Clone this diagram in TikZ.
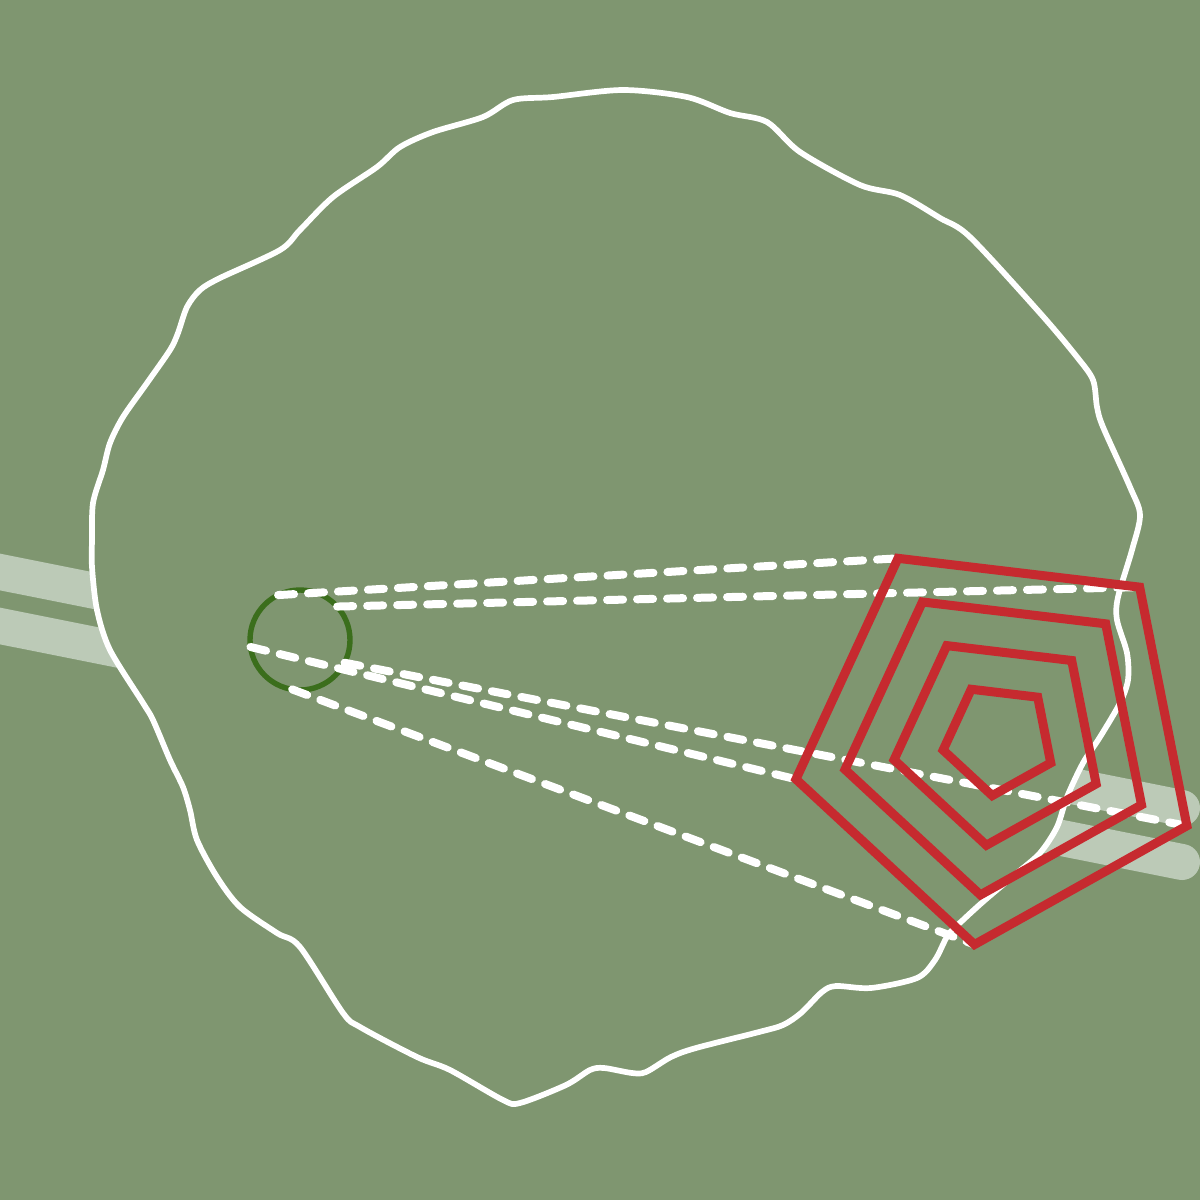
\documentclass[tikz,border=0pt]{standalone}
\definecolor{bg}{HTML}{7F9670}
\definecolor{bandc}{HTML}{BCCAB7}
\definecolor{redc}{HTML}{C62A2F}
\definecolor{ringc}{HTML}{3B6E1C}
\begin{document}
\begin{tikzpicture}[x=1pt,y=-1pt,
  blob/.style={draw=white,line width=5.7pt,fill=bg,line join=round},
  band/.style={draw=bandc,line width=36pt,line cap=round},
  ray/.style={draw=white,line width=8pt,line cap=round,dash pattern=on 16pt off 14pt},
  penta/.style={draw=redc,line width=9pt,miter limit=10},
  ring/.style={circle,draw=ringc,line width=5.4pt,minimum size=100pt,inner sep=0pt,outer sep=0pt}]
\fill[bg] (0,0) rectangle (1200,1200);
\useasboundingbox (0,0) rectangle (1200,1200);
% pale bands
\coordinate (B1s) at (-30,566); \coordinate (B1e) at (1182,808);
\coordinate (B2s) at (-30,620); \coordinate (B2e) at (1182,862);
\draw[band] (B1s) -- (B1e);
\draw[band] (B2s) -- (B2e);
% wavy blob
\draw[blob] plot[smooth cycle,tension=0.5] coordinates {
(300,230) (333,197) (377,167) (400,147) (433,132) (483,117) (513,100) (553,97) (623,90) (687,97) (730,113) (767,122) (800,152) (860,185) (900,195) (940,218) (970,237) (1040,313) (1077,357) (1093,380) (1097,407) (1103,427) (1130,487) (1140,515) (1132,550) (1118,597) (1117,620) (1127,653) (1128,680) (1120,703) (1100,737) (1083,763) (1067,797) (1057,827) (1040,853) (1017,873) (985,900) (963,920) (948,935) (935,960) (917,978) (871,988) (836,986) (822,992) (801,1013) (783,1025) (759,1032) (696,1048) (671,1057) (646,1072) (632,1073) (604,1068) (590,1070) (566,1085) (520,1103) (503,1100) (450,1070) (417,1057) (360,1027) (343,1013) (300,947) (277,933) (240,907) (217,877) (197,840) (190,810) (183,787) (170,760) (153,720) (143,703) (110,650) (97,610) (92,567) (92,540) (93,503) (103,470) (110,443) (123,417) (147,383) (170,350) (178,333) (187,307) (200,290) (220,278) (280,250)};
% small green circle
\node[ring] (ring) at (300,640) {};
% pentagon vertices
\foreach \r/\n in {207/a,157/b,107/c,57/d}{
  \foreach \k in {0,...,4}{
    \coordinate (\n\k) at ({999+\r*cos(119.2-72*\k)},{739-\r*sin(119.2-72*\k)});
  }
}
% dashed rays
\draw[ray] (ring.116.6) -- (a0);
\draw[ray] (ring.42) -- (a1);
\draw[ray] (ring.-27) -- (a2);
\draw[ray] (ring.261) -- (a3);
\draw[ray] (ring.188.7) -- (a4);
% nested pentagons
\foreach \n in {a,b,c,d}{
  \draw[penta] (\n0) -- (\n1) -- (\n2) -- (\n3) -- (\n4) -- cycle;
}
\end{tikzpicture}
\end{document}
